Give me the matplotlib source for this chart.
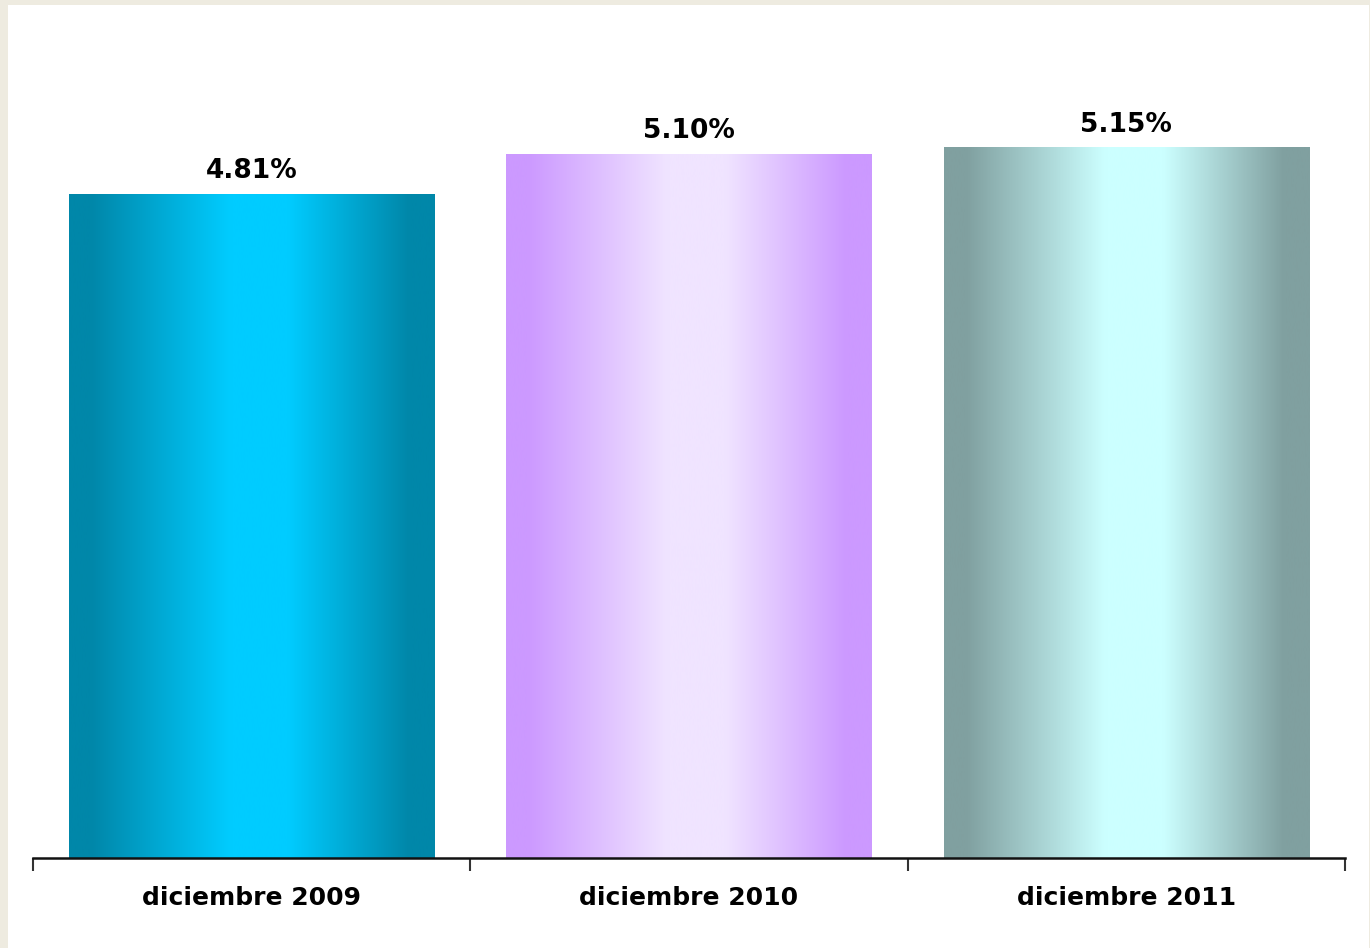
import numpy as np
import matplotlib.pyplot as plt
from matplotlib.colors import LinearSegmentedColormap
from matplotlib.patches import Rectangle

categories = ["diciembre 2009", "diciembre 2010", "diciembre 2011"]
values = [4.81, 5.10, 5.15]
labels = ["4.81%", "5.10%", "5.15%"]
# (edge color, center color) for each bar gradient
grad_colors = [("#0087A9", "#00CCFF"), ("#CC99FF", "#F0E4FF"), ("#80A0A0", "#CCFFFF")]

fig = plt.figure(figsize=(13.7, 9.48), dpi=100)
fig.patch.set_facecolor("#EEEBE0")
fig.add_artist(Rectangle((8 / 1370, 0), 1361 / 1370, 1 - 5 / 948,
                         transform=fig.transFigure, facecolor="white",
                         edgecolor="none", zorder=-10))

ax = fig.add_axes([33 / 1370, 1 - 858 / 948, 1312 / 1370, 828 / 948])
ax.set_facecolor("none")

x = np.arange(len(categories))
bars = ax.bar(x, values, width=0.835, color="none", edgecolor="none")

grad = np.linspace(0, 1, 256).reshape(1, -1)
for bar, (edge, mid), lab in zip(bars, grad_colors, labels):
    cmap = LinearSegmentedColormap.from_list(
        "g", [(0, edge), (0.06, edge), (0.44, mid), (0.6, mid), (0.93, edge), (1, edge)])
    x0, y0 = bar.get_x(), bar.get_y()
    w, h = bar.get_width(), bar.get_height()
    im = ax.imshow(grad, cmap=cmap, aspect="auto", extent=[x0, x0 + w, y0, y0 + h],
                   interpolation="bicubic", zorder=2)
    im.set_clip_path(bar)
    ax.annotate(lab, (x0 + w / 2, y0 + h), xytext=(0, 7), textcoords="offset points",
                ha="center", va="bottom", fontsize=19, fontweight="bold")

ax.set_xlim(-0.5, 2.5)
ax.set_ylim(0, 6)
ax.set_yticks([])
for s in ["top", "right", "left"]:
    ax.spines[s].set_visible(False)
ax.spines["bottom"].set_linewidth(1.8)
ax.spines["bottom"].set_color("#111111")

ax.set_xticks(x)
ax.set_xticklabels(categories, fontsize=18, fontweight="bold")
ax.tick_params(axis="x", which="major", length=0, pad=20)
ax.set_xticks([-0.5, 0.5, 1.5, 2.5], minor=True)
ax.tick_params(axis="x", which="minor", length=9, width=1.5, color="#333333")

plt.savefig("out.png", dpi=100)
